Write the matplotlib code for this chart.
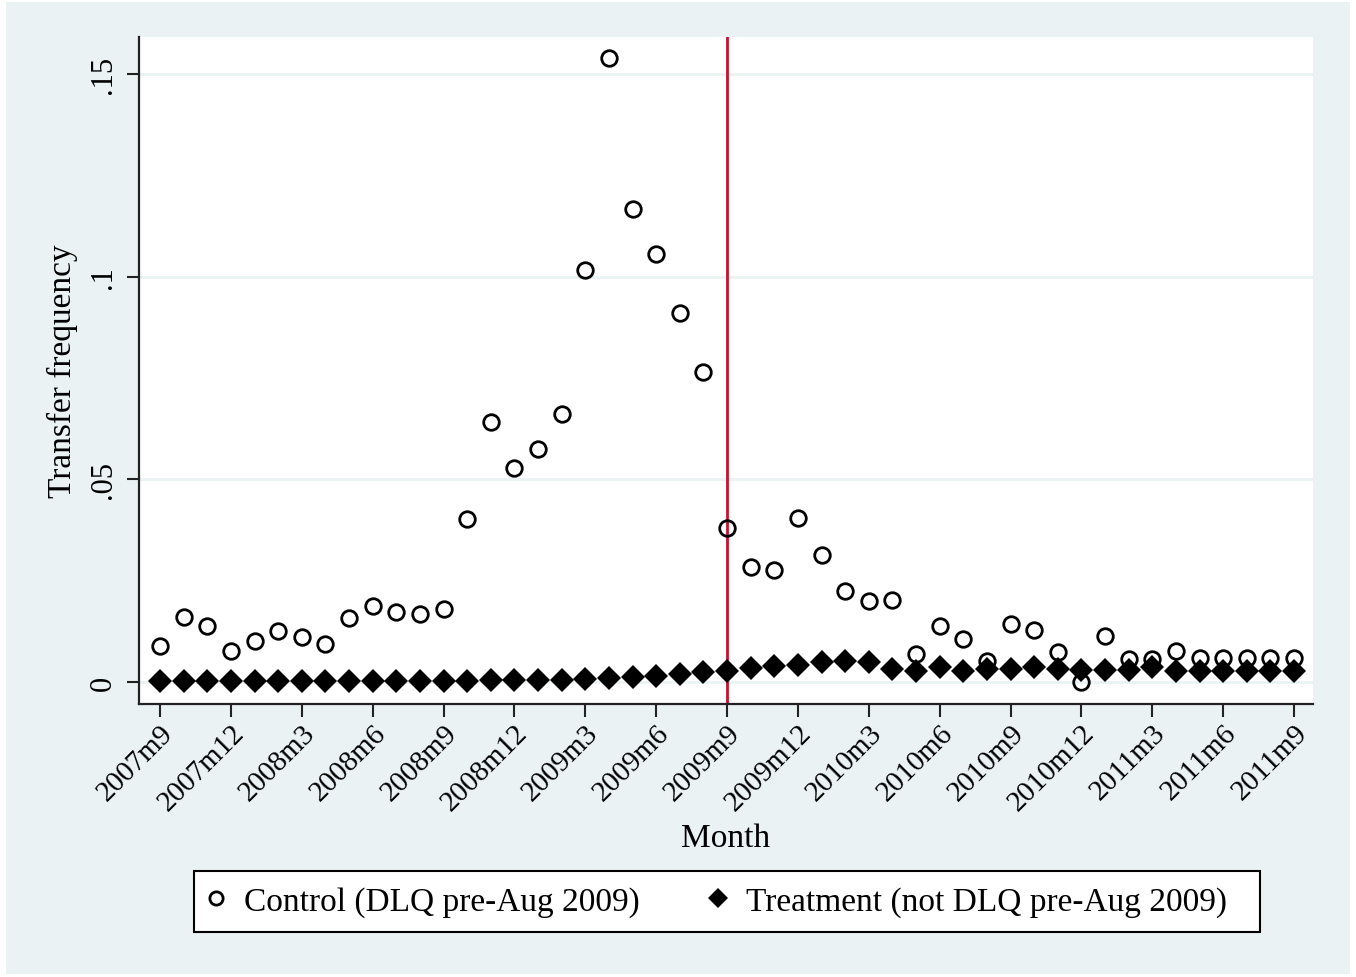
import numpy as np
import matplotlib
matplotlib.use("Agg")
import matplotlib.pyplot as plt
from matplotlib.patches import Rectangle

plt.rcParams["font.family"] = ["Liberation Serif", "DejaVu Serif"]

# Monthly transfer frequency, 2007m9 .. 2011m9
control = [0.0089, 0.0160, 0.0138, 0.0076, 0.0101, 0.0126, 0.0111, 0.0094,
           0.0158, 0.0187, 0.0173, 0.0168, 0.0180, 0.0402, 0.0641, 0.0528,
           0.0575, 0.0661, 0.1016, 0.1539, 0.1167, 0.1056, 0.0910, 0.0765,
           0.0380, 0.0284, 0.0276, 0.0405, 0.0313, 0.0224, 0.0200, 0.0202,
           0.0069, 0.0138, 0.0106, 0.0052, 0.0143, 0.0128, 0.0074, 0.0000,
           0.0113, 0.0057, 0.0057, 0.0076, 0.0059, 0.0059, 0.0059, 0.0059,
           0.0059]
treatment = [0.0002, 0.0002, 0.0002, 0.0002, 0.0002, 0.0002, 0.0002, 0.0002,
             0.0003, 0.0003, 0.0003, 0.0003, 0.0003, 0.0003, 0.0004, 0.0004,
             0.0005, 0.0006, 0.0008, 0.0010, 0.0012, 0.0015, 0.0020, 0.0025,
             0.0026, 0.0035, 0.0040, 0.0042, 0.0050, 0.0052, 0.0050, 0.0032,
             0.0028, 0.0038, 0.0028, 0.0032, 0.0033, 0.0037, 0.0032, 0.0030,
             0.0030, 0.0030, 0.0037, 0.0028, 0.0027, 0.0027, 0.0027, 0.0027,
             0.0027]
tick_labels = ["2007m9", "2007m12", "2008m3", "2008m6", "2008m9", "2008m12",
               "2009m3", "2009m6", "2009m9", "2009m12", "2010m3", "2010m6",
               "2010m9", "2010m12", "2011m3", "2011m6", "2011m9"]
y_ticks = [0, 0.05, 0.10, 0.15]
y_tick_labels = ["0", ".05", ".1", ".15"]
policy_month = 24  # 2009m9

x = np.arange(len(control))
W, H = 1356, 978
bg = "#EAF2F3"

fig = plt.figure(figsize=(W / 100, H / 100), dpi=100, facecolor="white")
fig.patches.append(Rectangle((6 / W, 3 / H), (1350 - 6) / W, (975 - 3) / H,
                             transform=fig.transFigure, facecolor=bg,
                             edgecolor="none", zorder=-10))

ax = fig.add_axes([139 / W, 1 - 705 / H, (1313 - 139) / W, (705 - 38) / H])
ax.set_zorder(1)
ax.set_facecolor("white")

for yv in y_ticks:
    ax.axhline(yv, color=bg, lw=2, zorder=1)

ax.axvline(policy_month, color="#C8102E", lw=2, zorder=2)

ax.plot(x, treatment, linestyle="none", marker="D", ms=12.2,
        mfc="black", mec="black", mew=0, zorder=3,
        label="Treatment (not DLQ pre-Aug 2009)")
ax.plot(x, control, linestyle="none", marker="o", ms=11.2,
        mfc="none", mec="black", mew=2.0, zorder=4,
        label="Control (DLQ pre-Aug 2009)")

ax.set_xlim(-21 / 23.625, 48 + 19 / 23.625)
ax.set_ylim(-22 / 4053.3, 0.15 + 37 / 4053.3)

ax.set_xticks(x[::3])
ax.set_xticklabels(tick_labels, rotation=45, ha="right", va="top",
                   rotation_mode="anchor", fontsize=21)
ax.set_yticks(y_ticks)
ax.set_yticklabels(y_tick_labels, rotation=90, va="center", fontsize=22)
ax.tick_params(axis="both", direction="out", length=9, width=1.5,
               color="#222222")
ax.tick_params(axis="x", pad=2)
ax.tick_params(axis="y", pad=6)

for side in ("top", "right"):
    ax.spines[side].set_visible(False)
for side in ("left", "bottom"):
    ax.spines[side].set_linewidth(1.6)
    ax.spines[side].set_color("#222222")

ax.set_xlabel("Month", fontsize=24, labelpad=5)
ax.set_ylabel("Transfer frequency", fontsize=24, labelpad=8)

# Legend box below the plot region
fig.patches.append(Rectangle((194 / W, 1 - 933 / H), (1260 - 194) / W,
                             (933 - 872) / H, transform=fig.transFigure,
                             facecolor="white", edgecolor="black", lw=1.5,
                             zorder=2))
handles, labels = ax.get_legend_handles_labels()
leg = fig.legend(handles[::-1], labels[::-1], loc="center left",
                 bbox_to_anchor=(194 / W, 1 - 902.5 / H), ncol=2,
                 fontsize=24, frameon=False,
                 handlelength=0.4, handletextpad=0.65, columnspacing=2.15,
                 borderpad=0.45, borderaxespad=0, markerscale=0.85)
leg.set_zorder(3)

fig.savefig("out.png", dpi=100, facecolor="white")
